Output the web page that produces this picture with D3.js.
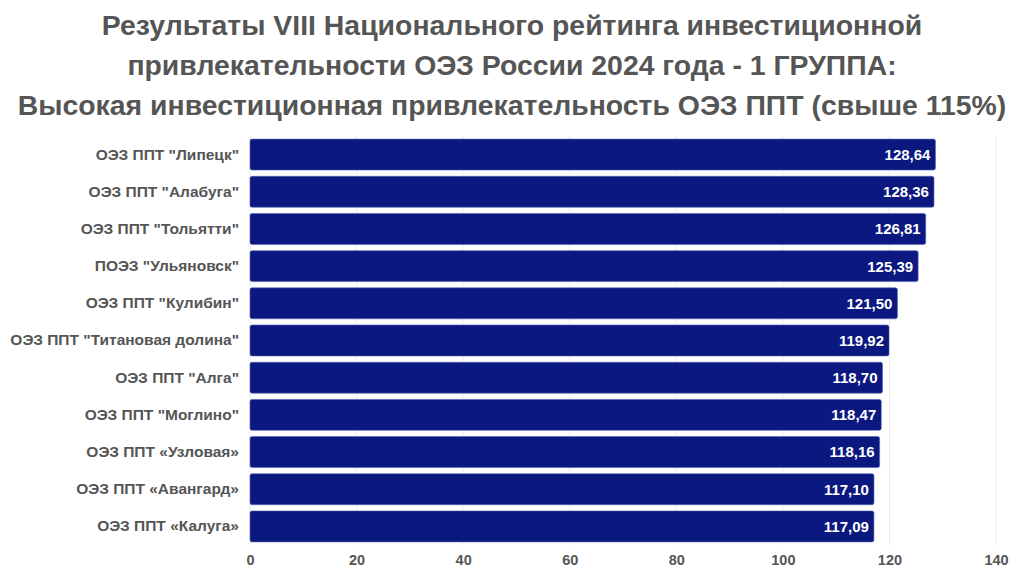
<!DOCTYPE html>
<html>
<head>
<meta charset="utf-8">
<script src="https://cdn.jsdelivr.net/npm/d3@7"></script>
<style>
  html, body { margin: 0; padding: 0; background: #fff; }
  svg { display: block; font-family: Arial, "Liberation Sans", sans-serif; }
</style>
</head>
<body>
<svg id="chart" width="1024" height="576"></svg>
<script>
// Chart data
const titleLines = [
    'Результаты VIII Национального рейтинга инвестиционной',
    'привлекательности ОЭЗ России 2024 года - 1 ГРУППА:',
    'Высокая инвестиционная привлекательность ОЭЗ ППТ (свыше 115%)'
];

const zones = [
    'ОЭЗ ППТ "Липецк"',
    'ОЭЗ ППТ "Алабуга"',
    'ОЭЗ ППТ "Тольятти"',
    'ПОЭЗ "Ульяновск"',
    'ОЭЗ ППТ "Кулибин"',
    'ОЭЗ ППТ "Титановая долина"',
    'ОЭЗ ППТ "Алга"',
    'ОЭЗ ППТ "Моглино"',
    'ОЭЗ ППТ «Узловая»',
    'ОЭЗ ППТ «Авангард»',
    'ОЭЗ ППТ «Калуга»'
];

const scores = [128.64, 128.36, 126.81, 125.39, 121.50, 119.92, 118.70, 118.47, 118.16, 117.10, 117.09];

const xTicks = [0, 20, 40, 60, 80, 100, 120, 140];

// Layout
const margin = { left: 250, right: 28, top: 136, bottom: 31 };
const width = 1024, height = 576;
const fontStack = 'Arial, "Liberation Sans", sans-serif';

const svg = d3.select('#chart');

// Title
svg.append('g')
    .selectAll('text')
    .data(titleLines)
    .join('text')
    .attr('x', width / 2)
    .attr('y', (d, i) => 35 + i * 40)
    .attr('text-anchor', 'middle')
    .attr('font-size', 28.4)
    .attr('font-weight', 'bold')
    .attr('fill', '#555555')
    .text(d => d);

// Scales
const x = d3.scaleLinear()
    .domain([0, 140])
    .range([margin.left, width - margin.right]);

const y = d3.scaleBand()
    .domain(zones)
    .range([margin.top, height - margin.bottom])
    .paddingInner(0.167)
    .paddingOuter(0.0835);

// Gridlines
svg.append('g')
    .selectAll('line')
    .data(xTicks)
    .join('line')
    .attr('x1', d => x(d))
    .attr('x2', d => x(d))
    .attr('y1', margin.top)
    .attr('y2', height - margin.bottom)
    .attr('stroke', '#ececec')
    .attr('stroke-width', 1);

// Bars
svg.append('g')
    .selectAll('rect')
    .data(zones)
    .join('rect')
    .attr('x', x(0))
    .attr('y', d => y(d))
    .attr('width', (d, i) => x(scores[i]) - x(0))
    .attr('height', y.bandwidth())
    .attr('rx', 2)
    .attr('fill', '#0a1880')
    .attr('stroke', '#5664ad')
    .attr('stroke-opacity', 0.6)
    .attr('stroke-width', 1);

// Value labels
svg.append('g')
    .selectAll('text')
    .data(zones)
    .join('text')
    .attr('x', (d, i) => x(scores[i]) - 5)
    .attr('y', d => y(d) + y.bandwidth() / 2)
    .attr('dy', '0.36em')
    .attr('text-anchor', 'end')
    .attr('font-size', 15)
    .attr('font-weight', 'bold')
    .attr('fill', '#ffffff')
    .text((d, i) => scores[i].toFixed(2).replace('.', ','));

// Category labels
const yAxis = d3.axisLeft(y).tickSize(0).tickPadding(11);
svg.append('g')
    .attr('transform', `translate(${margin.left},0)`)
    .call(yAxis)
    .call(g => g.select('.domain').remove())
    .call(g => g.selectAll('text')
        .attr('font-family', fontStack)
        .attr('font-size', 15.5)
        .attr('font-weight', 'bold')
        .attr('fill', '#555555'));

// X axis
const xAxis = d3.axisBottom(x).tickValues(xTicks).tickSize(0).tickPadding(10);
svg.append('g')
    .attr('transform', `translate(0,${height - margin.bottom})`)
    .call(xAxis)
    .call(g => g.select('.domain').remove())
    .call(g => g.selectAll('text')
        .attr('font-family', fontStack)
        .attr('font-size', 14.5)
        .attr('font-weight', 'bold')
        .attr('fill', '#555555'));
</script>
</body>
</html>
